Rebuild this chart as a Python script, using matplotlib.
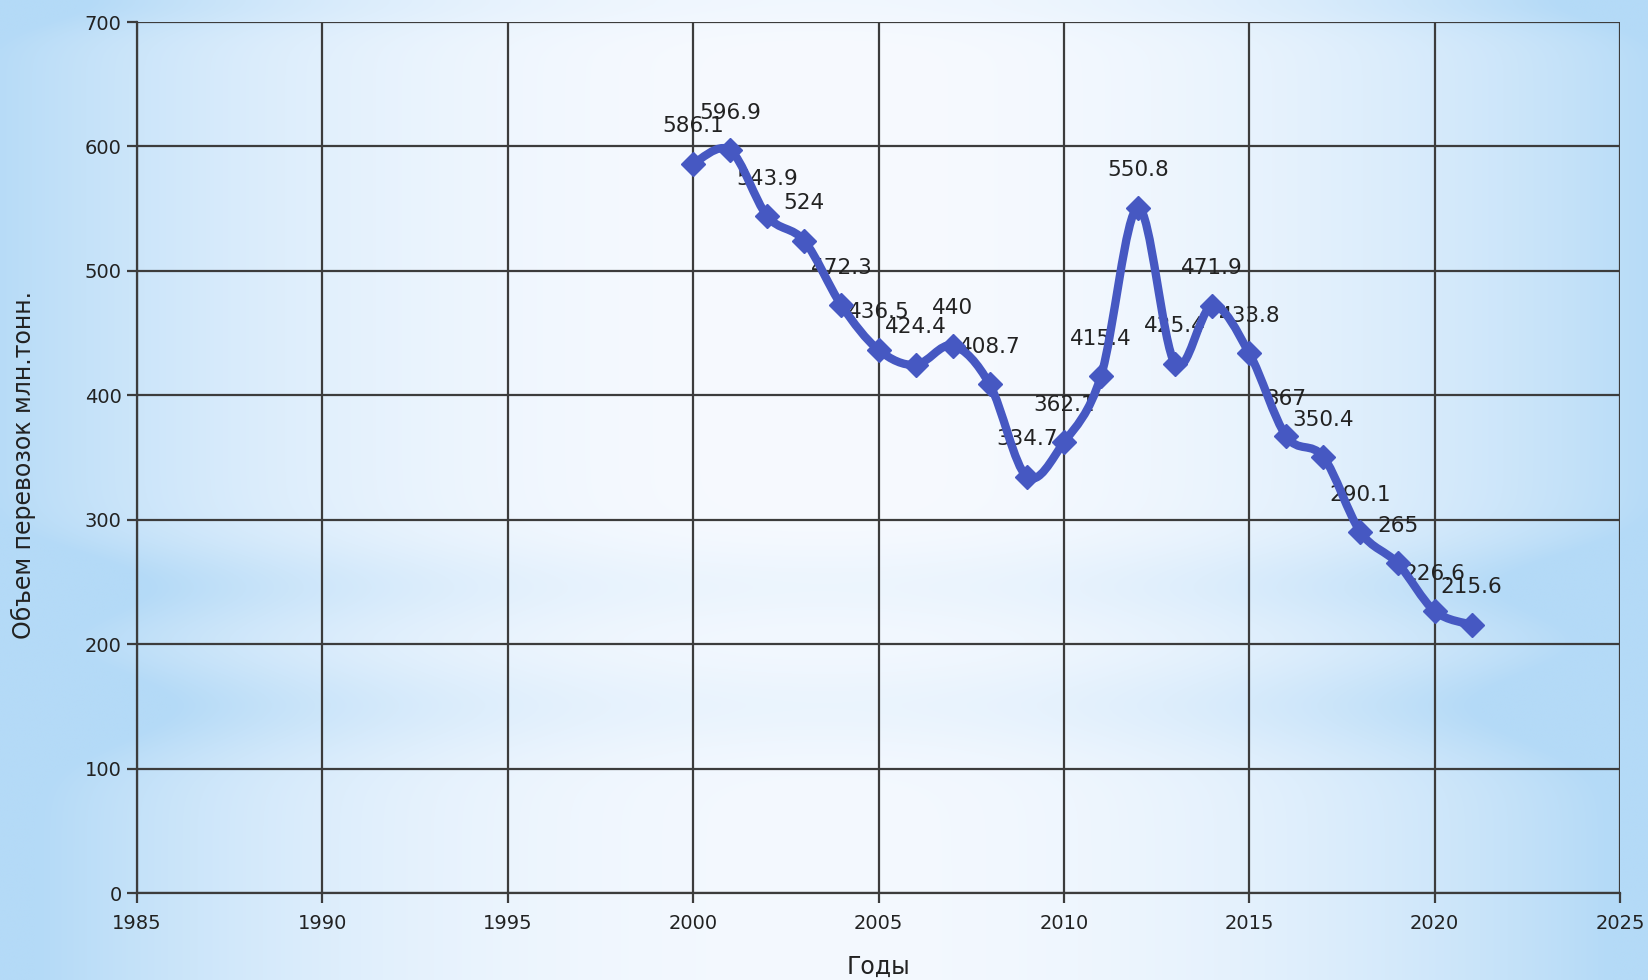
import numpy as np
import matplotlib
matplotlib.use("Agg")
import matplotlib.pyplot as plt
from matplotlib.path import Path
from matplotlib.patches import PathPatch

years = [2000, 2001, 2002, 2003, 2004, 2005, 2006, 2007, 2008, 2009, 2010,
         2011, 2012, 2013, 2014, 2015, 2016, 2017, 2018, 2019, 2020, 2021]
values = [586.1, 596.9, 543.9, 524, 472.3, 436.5, 424.4, 440, 408.7, 334.7, 362.1,
          415.4, 550.8, 425.4, 471.9, 433.8, 367, 350.4, 290.1, 265, 226.6, 215.6]
labels = ["586.1", "596.9", "543.9", "524", "472.3", "436.5", "424.4", "440", "408.7",
          "334.7", "362.1", "415.4", "550.8", "425.4", "471.9", "433.8", "367", "350.4",
          "290.1", "265", "226.6", "215.6"]
xticks = [1985, 1990, 1995, 2000, 2005, 2010, 2015, 2020, 2025]
yticks = [0, 100, 200, 300, 400, 500, 600, 700]

W, H = 1648, 980
fig = plt.figure(figsize=(W / 100, H / 100), dpi=100)

# background gradient
bg = fig.add_axes([0, 0, 1, 1], zorder=-10)
xx = np.linspace(0, 1, 400)
yy = np.linspace(0, 1, 300)
X, Y = np.meshgrid(xx, yy)
th = (np.abs(X - 0.5) / 0.5) ** 2.2
band = (np.exp(-((Y - 0.60) / 0.045) ** 2) * 0.5
        + np.exp(-((Y - 0.72) / 0.05) ** 2) * 0.45
        + np.clip((Y - 0.62) / 0.1, 0, 1) * 0.15)
top = np.exp(-((Y - 0.0) / 0.03) ** 2) * 0.3
t = np.clip(th * 0.95 + band * (0.3 + 0.7 * th) + top * (0.3 + 0.7 * th), 0, 1)
c_light = np.array([247, 250, 255]) / 255.0
c_dark = np.array([180, 218, 247]) / 255.0
img = c_light[None, None, :] * (1 - t[..., None]) + c_dark[None, None, :] * t[..., None]
bg.imshow(img, aspect="auto", extent=[0, 1, 1, 0], interpolation="bilinear")
bg.set_xlim(0, 1)
bg.set_ylim(1, 0)
bg.axis("off")

ax = fig.add_axes([137 / W, 1 - 893 / H, (1620 - 137) / W, (893 - 22) / H])
ax.set_facecolor("none")
ax.set_xlim(1985, 2025)
ax.set_ylim(0, 700)
ax.set_xticks(xticks)
ax.set_yticks(yticks)
gridc = "#3c3c3c"
ax.grid(True, color=gridc, linewidth=1.6)
for s in ["top", "right"]:
    ax.spines[s].set_visible(False)
for s in ["left", "bottom"]:
    ax.spines[s].set_color(gridc)
    ax.spines[s].set_linewidth(1.6)
ax.tick_params(axis="both", colors=gridc, width=1.6, length=7, labelcolor="#222222", labelsize=14)
ax.tick_params(axis="x", pad=8)
ax.tick_params(axis="y", pad=4)

# smooth curve (Catmull-Rom -> Bezier) through data points
pts = np.column_stack([years, values]).astype(float)
verts = [tuple(pts[0])]
codes = [Path.MOVETO]
n = len(pts)
for i in range(n - 1):
    p0 = pts[i - 1] if i > 0 else pts[i]
    p1 = pts[i]
    p2 = pts[i + 1]
    p3 = pts[i + 2] if i + 2 < n else pts[i + 1]
    c1 = p1 + (p2 - p0) / 6.0
    c2 = p2 - (p3 - p1) / 6.0
    verts += [tuple(c1), tuple(c2), tuple(p2)]
    codes += [Path.CURVE4, Path.CURVE4, Path.CURVE4]
line_color = "#4658c2"
patch = PathPatch(Path(verts, codes), facecolor="none", edgecolor=line_color,
                  linewidth=6, zorder=5, capstyle="round", joinstyle="round")
ax.add_patch(patch)
ax.plot(years, values, linestyle="none", marker="D", markersize=12,
        color=line_color, zorder=6, clip_on=False)

for x, y, lab in zip(years, values, labels):
    ax.annotate(lab, (x, y), xytext=(0, 27), textcoords="offset points",
                ha="center", va="center", fontsize=15.5, color="#222222", zorder=4)

fig.text(878 / W, 1 - 967 / H, "Годы", ha="center", va="center", fontsize=17, color="#222222")
fig.text(23 / W, 1 - 465 / H, "Объем перевозок млн.тонн.", rotation=90,
         ha="center", va="center", fontsize=17, color="#222222")

fig.savefig("out.png", dpi=100)
